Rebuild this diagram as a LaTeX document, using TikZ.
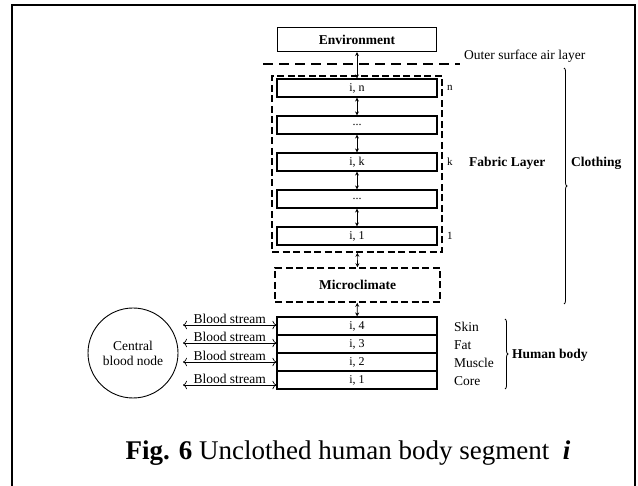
\documentclass[tikz,border=0pt]{standalone}
\usepackage{fontspec}
\setmainfont{Liberation Serif}
\usetikzlibrary{arrows.meta,decorations.pathreplacing,positioning}

\begin{document}
\begin{tikzpicture}[x=1pt,y=-1pt,>={Stealth[length=4pt,width=4pt]},
  txt/.style={font=\fontsize{13.5}{15}\selectfont,inner sep=1pt},
  layer/.style={draw,line width=1.1pt,minimum width=160pt,minimum height=18pt,inner sep=0pt,font=\fontsize{12}{13}\selectfont},
  dbox/.style={draw,line width=1.6pt,dash pattern=on 7pt off 3.5pt,inner sep=0pt},
  link/.style={<->,line width=0.7pt},
  flow/.style={{To[length=4pt]}-{To[length=4pt]},line width=0.7pt},
  brc/.style={decorate,decoration={brace,amplitude=3pt},line width=0.8pt}]
\useasboundingbox (0,0) rectangle (638,486);
% frame
\draw[line width=2pt] (12,486) -- (12,5) -- (635,5) -- (635,486);
% environment and outer air layer
\node[draw,line width=1.1pt,minimum width=159pt,minimum height=24pt,txt,font=\fontsize{13.5}{15}\selectfont\bfseries] (env) at (357,39.5) {Environment};
\coordinate (airL) at (263,64);
\coordinate (airR) at (460,64);
\draw[line width=1.6pt,dash pattern=on 10pt off 6pt] (airL) -- (airR);
\node[txt,anchor=west] (air) at (463,56) {Outer surface air layer};
% fabric layers
\node[dbox,minimum width=170pt,minimum height=176pt] (fab) at (357,164) {};
\node[layer] (ln) at (357,88) {i, n};
\node[layer] (lb) at (357,125) {...};
\node[layer] (lk) at (357,162) {i, k};
\node[layer] (la) at (357,199) {...};
\node[layer] (l1) at (357,236) {i, 1};
\node[txt,anchor=west,font=\fontsize{11}{12}\selectfont] (nn) at (446,88) {n};
\node[txt,anchor=west,font=\fontsize{11}{12}\selectfont] (nk) at (446,162) {k};
\node[txt,anchor=west,font=\fontsize{11}{12}\selectfont] (n1) at (446,236) {1};
\node[txt,anchor=west,font=\fontsize{13.5}{15}\selectfont\bfseries] (fl) at (468,163) {Fabric Layer};
\draw[link] (env) -- (ln);
\draw[link] (ln) -- (lb);
\draw[link] (lb) -- (lk);
\draw[link] (lk) -- (la);
\draw[link] (la) -- (l1);
% microclimate
\node[dbox,minimum width=165pt,minimum height=34pt,font=\fontsize{13.5}{15}\selectfont\bfseries] (mc) at (357.5,285) {Microclimate};
\draw[link] (fab) -- (mc);
% clothing brace
\draw[brc] (564,68) -- (564,304);
\node[txt,anchor=west,font=\fontsize{13.5}{15}\selectfont\bfseries] (cl) at (570,163) {Clothing};
% human body
\node[layer] (b4) at (357,326) {i, 4};
\node[layer] (b3) at (357,344) {i, 3};
\node[layer] (b2) at (357,362) {i, 2};
\node[layer] (b1) at (357,380) {i, 1};
\draw[link] (mc) -- (b4);
\node[txt,anchor=west] (sk) at (453,327) {Skin};
\node[txt,anchor=west] (ft) at (453,345) {Fat};
\node[txt,anchor=west] (ms) at (453,363) {Muscle};
\node[txt,anchor=west] (co) at (453,381) {Core};
\draw[brc] (505,319) -- (505,389);
\node[txt,anchor=west,font=\fontsize{13.5}{15}\selectfont\bfseries] (hb) at (511,355) {Human body};
% central blood node
\node[draw,circle,line width=0.9pt,minimum size=90pt,txt,align=center] (cb) at (133,353) {Central\\blood node};
\foreach \i/\y in {4/325,3/343,2/362,1/385} {
  \coordinate (s\i) at (183,\y);
  \draw[flow] (s\i) -- (b\i.west |- s\i) node[midway,above=0pt,txt] {Blood stream};
}
% caption
\node[font=\fontsize{27}{30}\selectfont] (cap) at (348,453) {\textbf{Fig. 6} Unclothed human body segment \ \textbf{\textit{i}}};
\end{tikzpicture}
\end{document}
